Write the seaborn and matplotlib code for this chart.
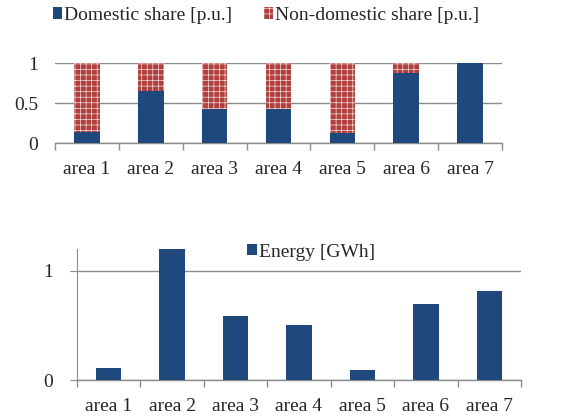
#!/usr/bin/env python3
"""Domestic / non-domestic share and energy per area."""

import matplotlib
matplotlib.use('Agg')
import matplotlib.pyplot as plt
from matplotlib.patches import Patch
import seaborn as sns

# data
areas = ['area 1', 'area 2', 'area 3', 'area 4', 'area 5', 'area 6', 'area 7']
domestic_share = [0.14, 0.65, 0.42, 0.42, 0.12, 0.87, 1.0]
non_domestic_share = [0.86, 0.35, 0.58, 0.58, 0.88, 0.13, 0.0]
energy_gwh = [0.11, 1.20, 0.585, 0.50, 0.09, 0.70, 0.82]

share_ticks = [0, 0.5, 1]
share_tick_labels = ['0', '0.5', '1']
energy_ticks = [0, 1]

BLUE = '#1F497D'
RED = '#B0403E'
GRID = '#8C8C8C'
HATCH = '+++'

sns.set_style('white')
plt.rcParams['font.family'] = ['Liberation Serif', 'DejaVu Serif']
plt.rcParams['hatch.linewidth'] = 0.5
FS = 14

fig = plt.figure(figsize=(5.66, 4.16), dpi=100)
ax1 = fig.add_axes([0.0972, 0.6562, 0.7898, 0.1923])
ax2 = fig.add_axes([0.1360, 0.0865, 0.7845, 0.3149])

# --- top: stacked shares (total drawn hatched, domestic on top of it) ---
totals = [d + n for d, n in zip(domestic_share, non_domestic_share)]
sns.barplot(x=areas, y=totals, color=RED, saturation=1, width=0.4,
            hatch=HATCH, edgecolor='#F2DCDB', linewidth=0, ax=ax1, zorder=2)
sns.barplot(x=areas, y=domestic_share, color=BLUE, saturation=1, width=0.4,
            linewidth=0, ax=ax1, zorder=3)
ax1.set_ylim(0, 1)
ax1.set_yticks(share_ticks)
ax1.set_yticklabels(share_tick_labels)

# --- bottom: energy ---
sns.barplot(x=areas, y=energy_gwh, color=BLUE, saturation=1, width=0.4,
            linewidth=0, ax=ax2, zorder=3)
ax2.set_ylim(0, 1.2)
ax2.set_yticks(energy_ticks)

for ax in (ax1, ax2):
    ax.set_xlim(-0.5, len(areas) - 0.5)
    ax.set_xlabel('')
    ax.set_ylabel('')
    ax.set_xticks([i - 0.5 for i in range(len(areas) + 1)], minor=True)
    ax.tick_params(axis='x', which='major', length=0, pad=13, labelsize=FS)
    ax.tick_params(axis='x', which='minor', length=5, direction='out',
                   color=GRID, width=1, bottom=True)
    ax.yaxis.grid(True, color=GRID, linewidth=1)
    ax.set_axisbelow(True)
    for side in ('top', 'right', 'left'):
        ax.spines[side].set_visible(False)
    ax.spines['bottom'].set_color(GRID)
    ax.spines['bottom'].set_linewidth(1)

ax1.tick_params(axis='y', length=0, pad=12, labelsize=FS)
ax2.spines['left'].set_visible(True)
ax2.spines['left'].set_color(GRID)
ax2.tick_params(axis='y', left=True, length=5, direction='out', color=GRID,
                pad=12, labelsize=FS)

# legends
h_dom = Patch(facecolor=BLUE, linewidth=0)
h_non = Patch(facecolor=RED, edgecolor='#F2DCDB', hatch=HATCH, linewidth=0)
fig.legend([h_dom, h_non], ['Domestic share [p.u.]', 'Non-domestic share [p.u.]'],
           loc='center', bbox_to_anchor=(0.47, 0.963), ncol=2, frameon=False,
           fontsize=FS, handlelength=0.5, handleheight=0.5, handletextpad=0.1,
           columnspacing=1.6, borderpad=0)

ax2.legend([Patch(facecolor=BLUE, linewidth=0)], ['Energy [GWh]'],
           loc='center', bbox_to_anchor=(0.527, 0.975), frameon=False,
           fontsize=FS, handlelength=0.5, handleheight=0.5, handletextpad=0.1,
           borderpad=0)

fig.savefig('out.png', dpi=100)
